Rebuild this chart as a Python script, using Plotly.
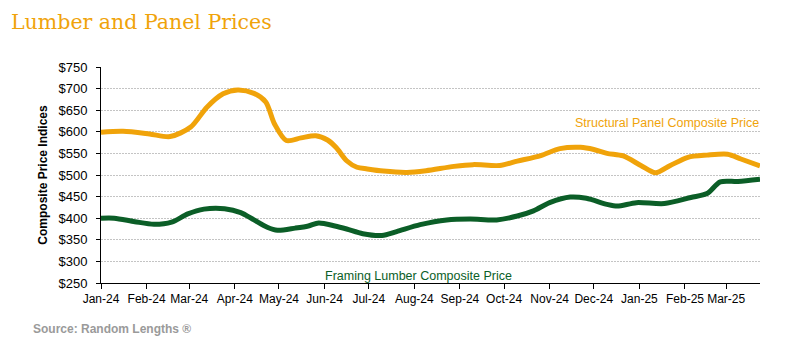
import plotly.graph_objects as go

# Structural panel composite price (weekly-ish readings)
panel_dates = [
    "2024-01-01", "2024-01-16", "2024-02-03", "2024-02-17", "2024-03-02",
    "2024-03-13", "2024-03-24", "2024-04-03", "2024-04-14", "2024-04-22",
    "2024-04-28", "2024-05-06", "2024-05-16", "2024-05-26", "2024-06-03",
    "2024-06-09", "2024-06-16", "2024-06-23", "2024-06-30", "2024-07-11",
    "2024-07-27", "2024-08-09", "2024-08-28", "2024-09-10", "2024-09-28",
    "2024-10-10", "2024-10-26", "2024-11-08", "2024-11-22", "2024-12-01",
    "2024-12-10", "2024-12-21", "2025-01-02", "2025-01-12", "2025-01-22",
    "2025-02-03", "2025-02-16", "2025-03-02", "2025-03-11", "2025-03-24",
]
panel_values = [
    599, 601, 595, 589, 611,
    657, 688, 697, 689, 669,
    618, 580, 586, 591, 581,
    563, 533, 518, 514, 509,
    506, 510, 520, 524, 522,
    532, 545, 561, 564, 559,
    550, 544, 522, 505, 522,
    541, 546, 548, 537, 521,
]

# Framing lumber composite price
lumber_dates = [
    "2024-01-01", "2024-01-10", "2024-01-24", "2024-02-06", "2024-02-18",
    "2024-02-29", "2024-03-11", "2024-03-25", "2024-04-05", "2024-04-14",
    "2024-04-23", "2024-04-30", "2024-05-12", "2024-05-21", "2024-05-28",
    "2024-06-08", "2024-06-16", "2024-06-27", "2024-07-10", "2024-07-20",
    "2024-08-05", "2024-08-23", "2024-09-08", "2024-09-26", "2024-10-10",
    "2024-10-21", "2024-11-01", "2024-11-15", "2024-11-26", "2024-12-10",
    "2024-12-17", "2024-12-30", "2025-01-18", "2025-02-05", "2025-02-16",
    "2025-02-25", "2025-03-09", "2025-03-24",
]
lumber_values = [
    400, 400, 392, 386, 391,
    410, 421, 422, 413, 396,
    379, 372, 377, 382, 389,
    382, 375, 364, 360, 369,
    385, 396, 398, 396, 405,
    417, 436, 449, 446, 432,
    428, 436, 434, 448, 457,
    484, 485, 490,
]

month_ticks = [
    "2024-01-01", "2024-02-01", "2024-03-01", "2024-04-01", "2024-05-01",
    "2024-06-01", "2024-07-01", "2024-08-01", "2024-09-01", "2024-10-01",
    "2024-11-01", "2024-12-01", "2025-01-01", "2025-02-01", "2025-03-01",
]
month_labels = [
    "Jan-24", "Feb-24", "Mar-24", "Apr-24", "May-24", "Jun-24", "Jul-24",
    "Aug-24", "Sep-24", "Oct-24", "Nov-24", "Dec-24", "Jan-25", "Feb-25",
    "Mar-25",
]

ORANGE = "#F0A30A"
GREEN = "#0B5E27"
FONT = "Liberation Sans, Arial, sans-serif"

# plot area in pixels (left, right, top, bottom)
PL, PR, PT, PB = 101, 760, 67, 283
PW, PH = PR - PL, PB - PT

fig = go.Figure()
fig.add_trace(go.Scatter(
    x=panel_dates, y=panel_values, mode="lines",
    line=dict(color=ORANGE, width=5, shape="spline", smoothing=0.8),
    name="Structural Panel Composite Price", hoverinfo="x+y",
))
fig.add_trace(go.Scatter(
    x=lumber_dates, y=lumber_values, mode="lines",
    line=dict(color=GREEN, width=5, shape="spline", smoothing=0.8),
    name="Framing Lumber Composite Price", hoverinfo="x+y",
))

fig.update_layout(
    width=807, height=347,
    margin=dict(l=PL, r=807 - PR, t=PT, b=347 - PB),
    paper_bgcolor="white", plot_bgcolor="white",
    showlegend=False,
    font=dict(family=FONT, size=12, color="#000000"),
    title=dict(
        text="Lumber and Panel Prices",
        font=dict(family="Georgia, DejaVu Serif, serif", size=20.5, color=ORANGE),
        xref="container", yref="container",
        x=11 / 807, xanchor="left", y=1 - 22 / 347, yanchor="middle",
    ),
)

fig.update_xaxes(
    type="date",
    range=["2024-01-01", "2025-03-24"],
    tickvals=month_ticks, ticktext=month_labels,
    showgrid=False, zeroline=False,
    showline=True, linecolor="#000000", linewidth=1,
    ticks="outside", ticklen=5, tickcolor="#000000",
    tickfont=dict(size=12, family=FONT, color="#000000"),
)
fig.update_yaxes(
    range=[250, 750], dtick=50, tick0=250,
    tickprefix="$",
    showgrid=True, gridcolor="#C4C4C4", gridwidth=1, griddash="2px,1px",
    zeroline=False,
    showline=True, linecolor="#000000", linewidth=1,
    ticks="outside", ticklen=4, tickcolor="#000000",
    ticklabelstandoff=6,
    tickfont=dict(size=13, family=FONT, color="#000000"),
    title=dict(text="<b>Composite Price Indices</b>",
               font=dict(size=12, family=FONT, color="#000000"),
               standoff=8),
)

fig.add_annotation(
    text="Structural Panel Composite Price",
    xref="paper", yref="paper", x=(761 - PL) / PW, y=(PB - 123) / PH,
    xanchor="right", yanchor="middle", showarrow=False,
    font=dict(size=12.5, family=FONT, color=ORANGE),
)
fig.add_annotation(
    text="Framing Lumber Composite Price",
    xref="paper", yref="paper", x=(323 - PL) / PW, y=(PB - 275.5) / PH,
    xanchor="left", yanchor="middle", showarrow=False,
    font=dict(size=12.5, family=FONT, color=GREEN),
)
fig.add_annotation(
    text="<b>Source: Random Lengths ®</b>",
    xref="paper", yref="paper", x=(31 - PL) / PW, y=(PB - 329) / PH,
    xanchor="left", yanchor="middle", showarrow=False,
    font=dict(size=12, family=FONT, color="#9A9A9A"),
)

fig.write_html("out.html")
